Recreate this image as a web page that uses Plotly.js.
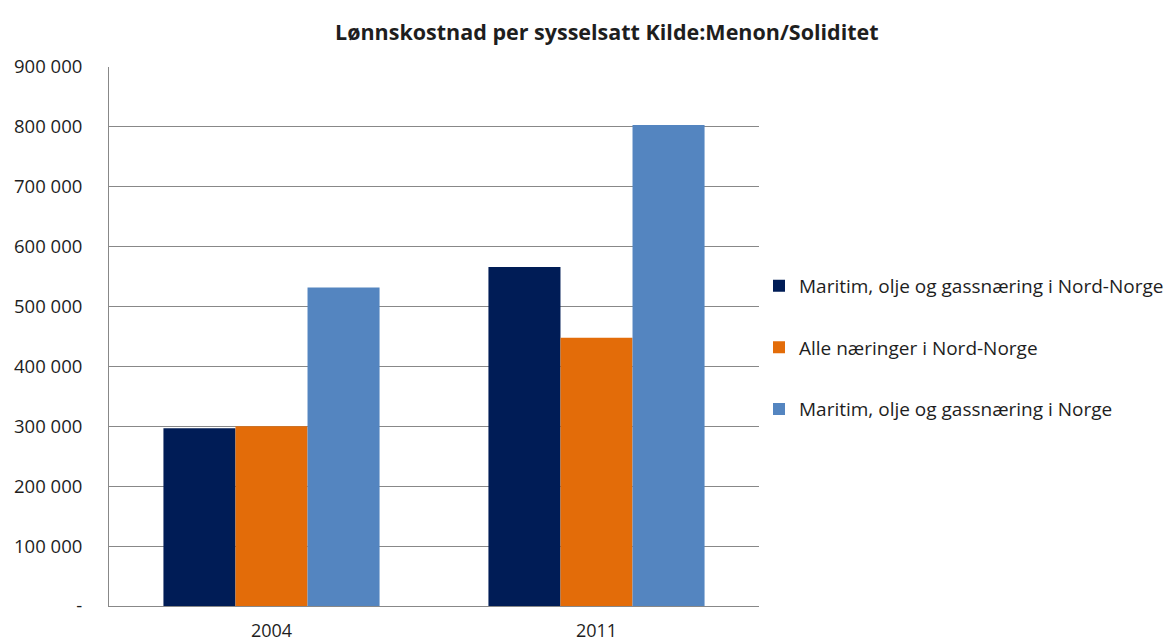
<!DOCTYPE html>
<html><head><meta charset="utf-8">
<script src="https://cdn.plot.ly/plotly-3.0.1.min.js"></script>
<style>body{margin:0}#c{width:1176px;height:642px}</style>
</head><body><div id="c"></div>
<script>
const categories = ["2004", "2011"];
const seriesNames = ["Maritim, olje og gassnæring i Nord-Norge", "Alle næringer i Nord-Norge", "Maritim, olje og gassnæring i Norge"];
const maritimNordNorge = [297000, 566000];
const alleNordNorge = [300000, 448000];
const maritimNorge = [532000, 803000];
const colors = ["#001c56", "#e36c09", "#5485c0"];
const tickVals = [0, 100000, 200000, 300000, 400000, 500000, 600000, 700000, 800000, 900000];
const tickText = ["-", "100 000", "200 000", "300 000", "400 000", "500 000", "600 000", "700 000", "800 000", "900 000"];

const values = [maritimNordNorge, alleNordNorge, maritimNorge];
const traces = values.map((v, i) => ({
  type: "bar", x: categories, y: v, name: seriesNames[i], legendgroup: "g" + i,
  marker: {color: colors[i], line: {width: 0}}
}));
const font = "'Open Sans', sans-serif";
Plotly.newPlot("c", traces, {
  width: 1176, height: 642,
  margin: {l: 109, r: 417, t: 67, b: 36, autoexpand: false},
  paper_bgcolor: "#fff", plot_bgcolor: "#fff",
  font: {family: font, size: 17, color: "#1e1e1e"},
  title: {text: "<b>Lønnskostnad per sysselsatt Kilde:Menon/Soliditet</b>", xref: "container", x: 0.516, xanchor: "center", y: 0.95, yanchor: "middle", font: {size: 21.5, color: "#1e1e1e", family: font}},
  bargap: 0.335, bargroupgap: 0,
  xaxis: {type: "category", showline: true, linecolor: "#888", linewidth: 1, ticks: "", tickfont: {size: 18}, showgrid: false, zeroline: false, ticklabelstandoff: 8, automargin: false},
  yaxis: {range: [0, 900000], tickvals: tickVals, ticktext: tickText, showgrid: true, gridcolor: "#888", gridwidth: 1, showline: true, linecolor: "#888", zeroline: false, ticks: "", ticklen: 0, tickfont: {size: 18.5}, ticklabelstandoff: 22, automargin: false},
  showlegend: true,
  legend: {x: 1.0, xanchor: "left", y: 0.479, yanchor: "middle", traceorder: "grouped", tracegroupgap: 34, font: {size: 19, color: "#1e1e1e"}, itemwidth: 30}
}, {displayModeBar: false});
</script></body></html>
